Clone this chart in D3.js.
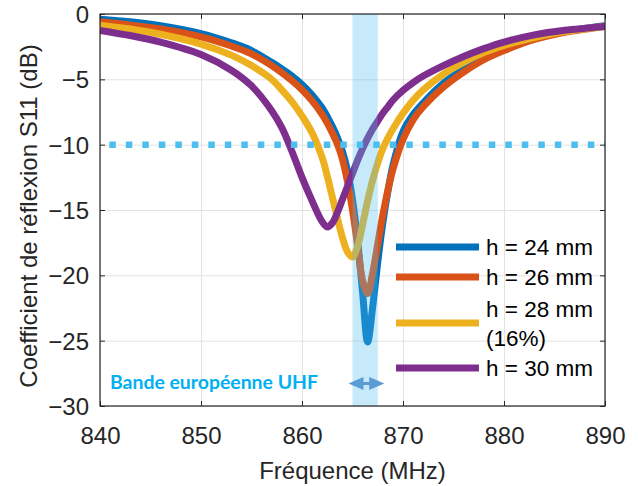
<!DOCTYPE html>
<html>
<head>
<meta charset="utf-8">
<script src="https://cdn.jsdelivr.net/npm/d3@7"></script>
<style>
  body { margin: 0; background: #fff; }
  svg { display: block; }
</style>
</head>
<body>
<script>
// values
const freq = [840, 843, 846, 850, 853, 855, 857, 858, 859, 860, 861, 862, 862.5, 863, 863.5, 864, 864.5, 865, 865.5, 866, 866.5, 867, 867.5, 868, 868.5, 869, 870, 871, 872, 874, 876, 878, 880, 883, 886, 890];
const h24 = [-0.4, -0.6, -0.9, -1.5, -2.2, -2.8, -3.7, -4.2, -4.75, -5.4, -6.2, -7.2, -7.85, -8.6, -9.45, -10.5, -12.0, -14.2, -17.3, -21.3, -25.1, -22.4, -19.0, -16.0, -13.6, -11.6, -9.0, -7.7, -6.8, -5.3, -4.2, -3.35, -2.7, -1.9, -1.35, -0.9];
const h26 = [-0.6, -0.85, -1.15, -1.75, -2.45, -3.05, -3.95, -4.5, -5.1, -5.8, -6.65, -7.7, -8.35, -9.1, -9.95, -11.1, -12.8, -15.0, -17.7, -20.4, -21.4, -19.8, -17.6, -15.4, -13.5, -11.9, -9.6, -8.1, -7.1, -5.6, -4.45, -3.5, -2.8, -1.95, -1.4, -0.95];
const h28 = [-0.85, -1.15, -1.55, -2.3, -3.15, -3.95, -5.0, -5.8, -6.7, -7.8, -9.1, -11.0, -12.4, -14.0, -15.6, -17.1, -18.2, -18.6, -17.8, -16.1, -14.3, -12.7, -11.4, -10.3, -9.5, -8.8, -7.6, -6.6, -5.8, -4.6, -3.7, -2.95, -2.4, -1.8, -1.35, -0.95];
const h30 = [-1.25, -1.65, -2.15, -3.1, -4.3, -5.5, -7.4, -8.7, -10.5, -12.5, -14.3, -15.9, -16.3, -16.0, -15.2, -14.2, -13.2, -12.2, -11.2, -10.3, -9.5, -8.8, -8.2, -7.6, -7.1, -6.6, -5.85, -5.25, -4.75, -3.95, -3.25, -2.65, -2.15, -1.6, -1.25, -0.95];

const legendLabels = [["h = 24 mm"], ["h = 26 mm"], ["h = 28 mm", "(16%)"], ["h = 30 mm"]];
const colors = ["#0072BD", "#D95319", "#EDB120", "#7E2F8E"];
const xTicks = [840, 850, 860, 870, 880, 890];
const yTicks = [0, -5, -10, -15, -20, -25, -30];
const band = [865, 867.5];
const threshold = -10;

const width = 639, height = 486;
const pL = 100, pR = 605, pT = 14, pB = 406;
const ink = "#262626";
const font = "'Liberation Sans', Arial, sans-serif";

const x = d3.scaleLinear().domain([840, 890]).range([pL, pR]);
const y = d3.scaleLinear().domain([-30, 0]).range([pB, pT]);

const svg = d3.select("body").append("svg")
    .attr("width", width)
    .attr("height", height);

svg.append("clipPath").attr("id", "plot")
  .append("rect")
    .attr("x", pL).attr("y", pT)
    .attr("width", pR - pL).attr("height", pB - pT);

// grid
svg.append("g")
    .attr("transform", `translate(0,${pB})`)
    .call(d3.axisBottom(x).tickValues(xTicks).tickSize(-(pB - pT)).tickFormat(""))
    .call(g => g.select(".domain").remove())
    .call(g => g.selectAll("line").attr("stroke", "#e2e2e2"));
svg.append("g")
    .attr("transform", `translate(${pL},0)`)
    .call(d3.axisLeft(y).tickValues(yTicks).tickSize(-(pR - pL)).tickFormat(""))
    .call(g => g.select(".domain").remove())
    .call(g => g.selectAll("line").attr("stroke", "#e2e2e2"));

// curves
const series = [h24, h26, h28, h30];
const line = d3.line()
    .x((d, i) => x(freq[i]))
    .y(d => y(d))
    .curve(d3.curveCatmullRom.alpha(0.5));

const curves = svg.append("g").attr("clip-path", "url(#plot)");
curves.selectAll("path")
  .data(series)
  .join("path")
    .attr("d", line)
    .attr("fill", "none")
    .attr("stroke", (d, i) => colors[i])
    .attr("stroke-width", 7)
    .attr("stroke-linejoin", "round");

// band (translucent, over the curves)
svg.append("rect")
    .attr("x", x(band[0]))
    .attr("y", pT)
    .attr("width", x(band[1]) - x(band[0]))
    .attr("height", pB - pT)
    .attr("fill", "#4DBEEE")
    .attr("fill-opacity", 0.32);

// -10 dB threshold
svg.append("line")
    .attr("x1", pL).attr("x2", pR)
    .attr("y1", y(threshold)).attr("y2", y(threshold))
    .attr("stroke", "#4DBEEE")
    .attr("stroke-width", 6.5)
    .attr("stroke-dasharray", "6.5,10")
    .attr("stroke-dashoffset", 7.2);

// axes
const xAxis = svg.append("g")
    .attr("transform", `translate(0,${pB})`)
    .call(d3.axisBottom(x).tickValues(xTicks).tickSize(-5).tickPadding(21));
const yAxis = svg.append("g")
    .attr("transform", `translate(${pL},0)`)
    .call(d3.axisLeft(y).tickValues(yTicks).tickSize(-5).tickPadding(11));
const topAxis = svg.append("g")
    .attr("transform", `translate(0,${pT})`)
    .call(d3.axisTop(x).tickValues(xTicks).tickSize(-5).tickFormat(""));
const rightAxis = svg.append("g")
    .attr("transform", `translate(${pR},0)`)
    .call(d3.axisRight(y).tickValues(yTicks).tickSize(-5).tickFormat(""));

[xAxis, yAxis, topAxis, rightAxis].forEach(g => {
  g.select(".domain").remove();
  g.selectAll(".tick line").attr("stroke", ink);
});
[xAxis, yAxis].forEach(g => g.selectAll("text")
    .attr("fill", ink)
    .style("font-family", font)
    .style("font-size", "24px"));
yAxis.selectAll("text").attr("dy", "0.35em");

svg.append("rect")
    .attr("x", pL).attr("y", pT)
    .attr("width", pR - pL).attr("height", pB - pT)
    .attr("fill", "none")
    .attr("stroke", ink)
    .attr("stroke-width", 1.2);

// titles
svg.append("text")
    .attr("x", (pL + pR) / 2)
    .attr("y", 479)
    .attr("text-anchor", "middle")
    .attr("fill", ink)
    .style("font-family", font)
    .style("font-size", "24px")
    .text("Fréquence (MHz)");
svg.append("text")
    .attr("transform", `translate(37,${(pT + pB) / 2 + 6}) rotate(-90)`)
    .attr("text-anchor", "middle")
    .attr("fill", ink)
    .style("font-family", font)
    .style("font-size", "24px")
    .text("Coefficient de réflexion S11 (dB)");

// band annotation
svg.append("text")
    .attr("x", 110)
    .attr("y", 389)
    .attr("fill", "#00B0F0")
    .attr("textLength", 208)
    .attr("lengthAdjust", "spacingAndGlyphs")
    .style("font-family", "Lato, 'Open Sans', sans-serif")
    .style("font-weight", "bold")
    .style("font-size", "19px")
    .text("Bande européenne UHF");

const ax0 = x(band[0]) - 4, ax1 = x(band[1]) + 6.5, ay = 383.5;
svg.append("path")
    .attr("d", `M${ax0},${ay} L${ax0 + 15},${ay - 6.5} L${ax0 + 15},${ay - 1.5} L${ax1 - 15},${ay - 1.5} L${ax1 - 15},${ay - 6.5} L${ax1},${ay} L${ax1 - 15},${ay + 6.5} L${ax1 - 15},${ay + 1.5} L${ax0 + 15},${ay + 1.5} L${ax0 + 15},${ay + 6.5} Z`)
    .attr("fill", "#5B9BD5");

// legend
const legendY = [247, 277, 323, 368];
const legend = svg.append("g");
legendLabels.forEach((lines, i) => {
  legend.append("line")
      .attr("x1", 396).attr("x2", 479)
      .attr("y1", legendY[i]).attr("y2", legendY[i])
      .attr("stroke", colors[i])
      .attr("stroke-width", 7);
  const t = legend.append("text")
      .attr("x", 486)
      .attr("y", legendY[i] + 8 - (lines.length - 1) * 14.5)
      .attr("fill", "#000")
      .style("font-family", font)
      .style("font-size", "22.5px");
  lines.forEach((s, j) => t.append("tspan")
      .attr("x", 486)
      .attr("dy", j === 0 ? 0 : 29)
      .text(s));
});
</script>
</body>
</html>
